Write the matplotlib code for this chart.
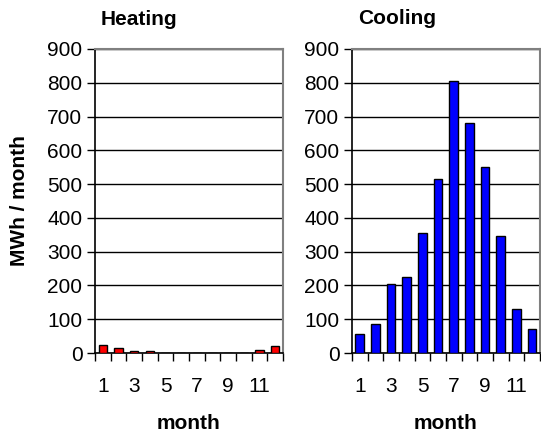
import matplotlib.pyplot as plt
import numpy as np
from matplotlib import rcParams

rcParams['font.family'] = ['Liberation Sans', 'DejaVu Sans']

months = np.arange(1, 13)
heating = [25, 15, 5, 5, 0, 0, 0, 0, 0, 0, 10, 20]
cooling = [55, 85, 205, 225, 355, 515, 805, 680, 550, 345, 130, 70]
tick_months = [1, 3, 5, 7, 9, 11]

fig = plt.figure(figsize=(5.41, 4.37), dpi=100)
ax1 = fig.add_axes([0.1756, 0.1922, 0.3475, 0.6957])
ax2 = fig.add_axes([0.6506, 0.1922, 0.3475, 0.6957])


def style(ax, vals, color):
    ax.set_axisbelow(True)
    ax.bar(months, vals, width=0.55, color=color, edgecolor='black', linewidth=1, zorder=3)
    ax.set_xlim(0.5, 12.5)
    ax.set_ylim(0, 900)
    ax.set_yticks(np.arange(0, 901, 100))
    ax.yaxis.grid(True, color='black', linewidth=1)
    ax.set_xticks(np.arange(0.5, 12.6, 1))
    ax.set_xticklabels([])
    ax.set_xticks(tick_months, minor=True)
    ax.set_xticklabels([str(m) for m in tick_months], minor=True)
    ax.tick_params(axis='x', which='major', direction='out', length=6, width=1)
    ax.tick_params(axis='x', which='minor', length=0, pad=17, labelsize=15)
    ax.tick_params(axis='y', direction='out', length=6, width=1, labelsize=15, pad=3)
    for s in ['top', 'right']:
        ax.spines[s].set_color('#808080')
        ax.spines[s].set_linewidth(1.5)
    for s in ['left', 'bottom']:
        ax.spines[s].set_color('black')
        ax.spines[s].set_linewidth(1.2)
    ax.set_xlabel("month", fontsize=15, fontweight='bold', labelpad=13)


style(ax1, heating, '#ff0000')
style(ax2, cooling, '#0000ff')

ax1.set_ylabel("MWh / month", fontsize=15, fontweight='bold', labelpad=13)
fig.text(101 / 541, 1 - 25 / 437, "Heating", fontsize=15, fontweight='bold', va='baseline')
fig.text(358 / 541, 1 - 24 / 437, "Cooling", fontsize=15, fontweight='bold', va='baseline')

plt.savefig("out.png", dpi=100)
